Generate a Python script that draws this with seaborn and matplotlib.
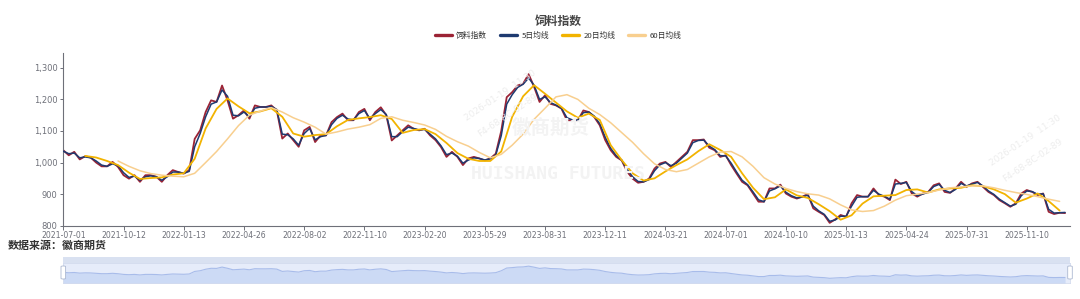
import numpy as np
import pandas as pd
import matplotlib
matplotlib.use("Agg")
import matplotlib.pyplot as plt
import seaborn as sns
from matplotlib.patches import FancyBboxPatch
from matplotlib.ticker import FuncFormatter, FixedLocator

# ---------------- data ----------------
tick_labels = ["2021-07-01", "2021-10-12", "2022-01-13", "2022-04-26", "2022-08-02",
               "2022-11-10", "2023-02-20", "2023-05-29", "2023-08-31", "2023-12-11",
               "2024-03-21", "2024-07-01", "2024-10-10", "2025-01-13", "2025-04-24",
               "2025-07-31", "2025-11-10"]
samples_per_label = 11          # one sample every ~6 trading days, label every 66 days

index_vals = [1039, 1023, 1034, 1010, 1020, 1016, 1000, 988, 988, 1002,
              986, 960, 949, 960, 939, 960, 960, 955, 939, 960,
              976, 970, 965, 976, 1075, 1102, 1160, 1197, 1192, 1244,
              1197, 1139, 1150, 1165, 1139, 1181, 1176, 1176, 1181, 1165,
              1076, 1092, 1071, 1050, 1102, 1113, 1065, 1086, 1086, 1128,
              1144, 1155, 1134, 1134, 1160, 1170, 1134, 1160, 1175, 1150,
              1070, 1086, 1102, 1118, 1107, 1102, 1107, 1086, 1071, 1049,
              1018, 1034, 1018, 992, 1013, 1018, 1013, 1007, 1013, 1028,
              1100, 1207, 1223, 1244, 1250, 1280, 1240, 1192, 1213, 1186,
              1181, 1171, 1134, 1134, 1134, 1165, 1160, 1144, 1118, 1071,
              1039, 1018, 1007, 971, 949, 936, 939, 949, 981, 997,
              1002, 986, 1002, 1018, 1034, 1071, 1071, 1073, 1047, 1039,
              1018, 1023, 992, 965, 939, 928, 902, 876, 876, 918,
              918, 930, 902, 892, 886, 892, 900, 855, 844, 834,
              809, 820, 834, 828, 871, 897, 892, 892, 918, 897,
              892, 881, 946, 932, 939, 902, 892, 902, 907, 928,
              934, 907, 904, 918, 939, 923, 934, 939, 923, 907,
              897, 881, 871, 860, 871, 902, 913, 907, 897, 902,
              844, 837, 841, 840]

ma5_vals = [1036, 1028, 1030, 1015, 1018, 1015, 1005, 992, 988, 996,
            990, 968, 953, 957, 944, 955, 958, 955, 944, 955,
            970, 970, 966, 972, 1050, 1092, 1145, 1185, 1192, 1230,
            1210, 1150, 1148, 1160, 1145, 1172, 1176, 1176, 1178, 1168,
            1090, 1088, 1075, 1055, 1092, 1108, 1072, 1082, 1086, 1120,
            1140, 1150, 1138, 1135, 1155, 1165, 1140, 1155, 1168, 1152,
            1082, 1082, 1098, 1112, 1108, 1103, 1105, 1090, 1075, 1053,
            1025, 1030, 1020, 998, 1008, 1015, 1013, 1008, 1012, 1024,
            1085, 1185, 1215, 1238, 1248, 1268, 1245, 1200, 1208, 1190,
            1182, 1172, 1142, 1135, 1134, 1158, 1160, 1147, 1123, 1080,
            1045, 1022, 1008, 978, 955, 940, 939, 946, 974, 993,
            1000, 990, 998, 1014, 1030, 1063, 1070, 1071, 1052, 1041,
            1022, 1021, 998, 970, 944, 930, 907, 882, 876, 910,
            917, 926, 906, 895, 888, 891, 897, 862, 847, 836,
            814, 818, 830, 830, 862, 890, 892, 892, 912, 900,
            893, 884, 932, 934, 937, 908, 895, 900, 906, 924,
            931, 912, 905, 915, 934, 926, 932, 937, 926, 910,
            899, 884, 873, 862, 868, 895, 910, 908, 899, 901,
            852, 840, 841, 842]

ma_step = 2
ma20_first = 4
ma20_vals = [1021, 1016, 1005, 992, 968, 948, 951, 953, 962, 966,
             1012, 1108, 1170, 1203, 1178, 1156, 1162, 1172, 1145, 1092,
             1082, 1087, 1090, 1115, 1135, 1140, 1144, 1150, 1138, 1094,
             1103, 1106, 1090, 1062, 1030, 1012, 1005, 1005, 1035, 1145,
             1210, 1245, 1218, 1190, 1162, 1142, 1155, 1135, 1055, 1008,
             966, 943, 950, 972, 992, 1010, 1036, 1058, 1040, 1018,
             966, 920, 884, 890, 915, 896, 888, 868, 846, 819,
             833, 870, 893, 895, 897, 913, 915, 905, 915, 918,
             920, 928, 925, 915, 900, 873, 886, 902, 878, 848]

ma60_first = 10
ma60_vals = [1005, 988, 974, 965, 960, 957, 955, 966, 1000, 1035,
             1075, 1117, 1150, 1163, 1174, 1160, 1142, 1128, 1112, 1090,
             1097, 1106, 1112, 1120, 1140, 1145, 1134, 1127, 1119, 1105,
             1083, 1066, 1052, 1032, 1015, 1026, 1055, 1090, 1137, 1172,
             1208, 1215, 1200, 1172, 1152, 1126, 1095, 1064, 1028, 996,
             978, 971, 978, 998, 1018, 1033, 1035, 1018, 988, 952,
             932, 918, 908, 901, 897, 885, 866, 850, 845, 848,
             862, 881, 895, 900, 905, 913, 920, 923, 926, 926,
             920, 912, 905, 899, 892, 884, 877]

y_ticks = [800, 900, 1000, 1100, 1200, 1300]
series_names = ["饲料指数", "5日均线", "20日均线", "60日均线"]
series_colors = ["#9B2335", "#1E3A70", "#F2B300", "#F8CF8F"]

# ---------------- build frames ----------------
df_idx = pd.DataFrame({"x": np.arange(len(index_vals)), "v": index_vals})
df_ma5 = pd.DataFrame({"x": np.arange(len(ma5_vals)), "v": ma5_vals})
df_ma20 = pd.DataFrame({"x": ma20_first + ma_step * np.arange(len(ma20_vals)), "v": ma20_vals})
df_ma60 = pd.DataFrame({"x": ma60_first + ma_step * np.arange(len(ma60_vals)), "v": ma60_vals})

sns.set_theme(style="white")
plt.rcParams["font.family"] = ["Noto Sans CJK SC", "DejaVu Sans"]
plt.rcParams["axes.unicode_minus"] = False

W, H = 1080, 299
fig = plt.figure(figsize=(W / 100, H / 100), dpi=100)
fig.patch.set_facecolor("white")

def fx(px):
    return px / W

def fy(py):
    return 1 - py / H

# ---------------- watermarks (very faint) ----------------
wm = "#F3F3F3"
fig.text(fx(551), fy(128), "徽商期货", fontsize=14, color=wm, ha="center", va="center",
         fontweight="bold", zorder=0)
fig.text(fx(558), fy(174), "HUISHANG FUTURES", fontsize=13, color=wm, ha="center",
         va="center", family=["DejaVu Sans Mono"], fontweight="bold", zorder=0)
for cx, cy in [(500, 95), (1025, 140)]:
    fig.text(fx(cx), fy(cy), "2026-01-19  11:30", fontsize=6.5, color="#EDEDED",
             rotation=34, ha="center", va="center", family=["DejaVu Sans"], zorder=0)
    fig.text(fx(cx + 8), fy(cy + 20), "F4-68-8C-02-89", fontsize=6.5, color="#EDEDED",
             rotation=34, ha="center", va="center", family=["DejaVu Sans"], zorder=0)

# ---------------- main axes ----------------
x_right = 183.9
ax = fig.add_axes([fx(63.3), fy(225.7), fx(1070 - 63.3), (225.7 - 53) / H])
ax.patch.set_alpha(0)
frames = [df_idx, df_ma5, df_ma20, df_ma60]
widths = [1.3, 1.1, 1.3, 1.1]
for i, (d, name, col, lw) in enumerate(zip(frames, series_names, series_colors, widths)):
    sns.lineplot(data=d, x="x", y="v", ax=ax, color=col, linewidth=lw, label=name,
                 zorder=2 + i)

ax.set_xlim(0, x_right)
ax.set_ylim(800, 1347)
ax.set_xlabel("")
ax.set_ylabel("")
ax.xaxis.set_major_locator(FixedLocator([k * samples_per_label for k in range(len(tick_labels))]))
ax.set_xticklabels(tick_labels)
ax.yaxis.set_major_locator(FixedLocator(y_ticks))
ax.yaxis.set_major_formatter(FuncFormatter(lambda v, p: f"{int(v):,}"))
axis_col = "#6E7079"
for s in ["top", "right"]:
    ax.spines[s].set_visible(False)
for s in ["left", "bottom"]:
    ax.spines[s].set_color(axis_col)
    ax.spines[s].set_linewidth(0.8)
ax.tick_params(axis="x", direction="out", length=3.0, width=0.7, color=axis_col,
               labelsize=5.6, labelcolor=axis_col, pad=0.6, bottom=True)
ax.tick_params(axis="y", direction="out", length=2.5, width=0.7, color=axis_col,
               labelsize=6, labelcolor=axis_col, pad=1.5, left=True)
for lab in ax.get_xticklabels() + ax.get_yticklabels():
    lab.set_family(["DejaVu Sans"])
ax.grid(False)

handles, labels = ax.get_legend_handles_labels()
ax.get_legend().remove()
leg = fig.legend(handles, labels, loc="center", bbox_to_anchor=(fx(558), fy(35.5)),
                 ncol=4, frameon=False, fontsize=5.6, handlelength=2.2,
                 handletextpad=0.6, columnspacing=1.6, borderaxespad=0)
for h in leg.legend_handles:
    h.set_linewidth(2.4)
    h.set_solid_capstyle("round")
for t in leg.get_texts():
    t.set_color("#333333")

fig.text(fx(558), fy(21), "饲料指数", fontsize=8.5, fontweight="bold", color="#464646",
         ha="center", va="center")

fig.text(fx(8), fy(245.5), "数据来源：徽商期货", fontsize=7.9, fontweight="bold",
         color="#333333", ha="left", va="center")

# ---------------- data zoom slider ----------------
sx0, sx1 = 63.3, 1070
strip = fig.add_axes([fx(sx0), fy(263.3), fx(sx1 - sx0), 6 / H])
strip.set_facecolor("#D9E1F1")
strip.set_xticks([])
strip.set_yticks([])
for s in strip.spines.values():
    s.set_visible(False)

sl = fig.add_axes([fx(sx0), fy(283.3), fx(sx1 - sx0), 20 / H])
sl.set_facecolor("#E6ECFA")
sns.lineplot(data=df_idx, x="x", y="v", ax=sl, color="#A8BCEA", linewidth=0.8)
sl.fill_between(df_idx["x"], df_idx["v"], 600, color="#CCDAF5", linewidth=0)
sl.set_xlim(0, x_right)
sl.set_ylim(615, 1390)
sl.set_xticks([])
sl.set_yticks([])
sl.set_xlabel("")
sl.set_ylabel("")
for s in sl.spines.values():
    s.set_color("#D2DBEE")
    s.set_linewidth(0.6)

for hx in (sx0, sx1):
    fig.patches.append(FancyBboxPatch((fx(hx - 2.3), fy(279)), fx(4.6), 13 / H,
                                      boxstyle="round,pad=0,rounding_size=0.002",
                                      transform=fig.transFigure, facecolor="white",
                                      edgecolor="#ACB8D1", linewidth=0.6, zorder=10))

fig.savefig("out.png", dpi=100, facecolor="white")
